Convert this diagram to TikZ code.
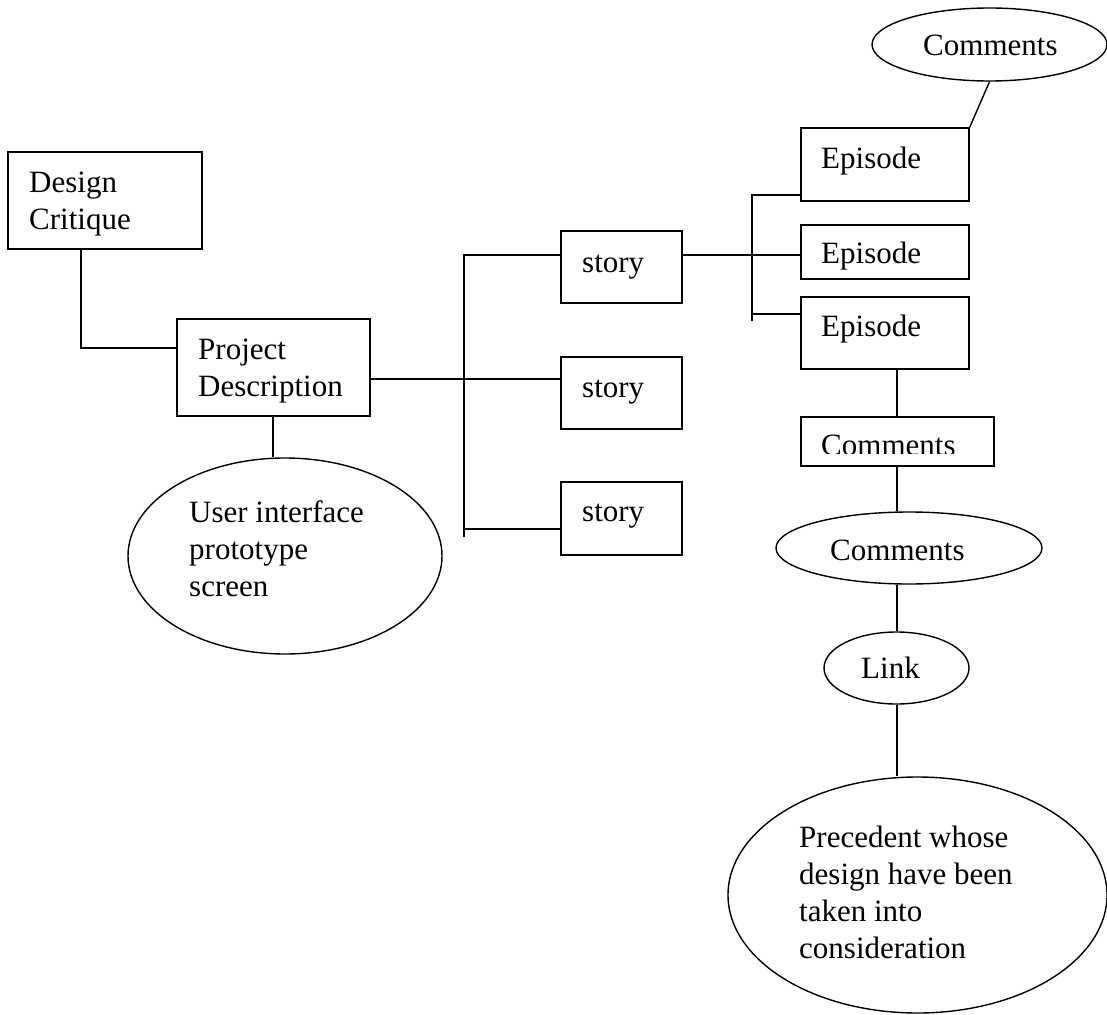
\documentclass[tikz,border=0pt]{standalone}
\usepackage{fontspec}
\setmainfont{Liberation Serif}
\usetikzlibrary{shapes.geometric}
\begin{document}
\begin{tikzpicture}[x=1pt,y=-1pt,
  box/.style={draw, rectangle, inner sep=0pt, line width=1.4pt},
  oval/.style={draw, ellipse, inner sep=0pt, line width=1.4pt},
  lbl/.style={inner sep=0pt, anchor=north west, align=left, font=\fontsize{31}{37}\selectfont},
  wire/.style={line width=1.4pt}]
\useasboundingbox (0,0) rectangle (1107,1014);

% ---- shapes ----
\node[box, minimum width=194pt, minimum height=97pt] (dc) at (105,200.5) {};
\node[box, minimum width=193pt, minimum height=97pt] (pd) at (273.5,367.5) {};
\node[box, minimum width=121pt, minimum height=72pt] (s1) at (621.5,267) {};
\node[box, minimum width=121pt, minimum height=72pt] (s2) at (621.5,393) {};
\node[box, minimum width=121pt, minimum height=73pt] (s3) at (621.5,518.5) {};
\node[box, minimum width=168pt, minimum height=73pt] (e1) at (885,164.5) {};
\node[box, minimum width=168pt, minimum height=54pt] (e2) at (885,252) {};
\node[box, minimum width=168pt, minimum height=72pt] (e3) at (885,333) {};
\node[box, minimum width=193pt, minimum height=49pt] (cbox) at (897.5,441.5) {};
\node[oval, minimum width=235pt, minimum height=73pt] (ctop) at (989.5,44.5) {};
\node[oval, minimum width=314pt, minimum height=196pt] (ui) at (285,556) {};
\node[oval, minimum width=266pt, minimum height=72pt] (cmt) at (909,548) {};
\node[oval, minimum width=145pt, minimum height=72pt] (lnk) at (896.5,668) {};
\node[oval, minimum width=379pt, minimum height=236pt] (big) at (917.5,895) {};

% ---- texts ----
\node[lbl] (dct) at (29,166.1) {\strut Design\\\strut Critique};
\node[lbl] (pdt) at (198,333.1) {\strut Project\\\strut Description};
\node[lbl] (s1t) at (582,246.1) {\strut story};
\node[lbl] (s2t) at (582,371.1) {\strut story};
\node[lbl] (s3t) at (582,495.1) {\strut story};
\node[lbl] (e1t) at (821,142.1) {\strut Episode};
\node[lbl] (e2t) at (821,237.1) {\strut Episode};
\node[lbl] (e3t) at (821,310.1) {\strut Episode};
\node[lbl] (ctopt) at (923,29.1) {\strut Comments};
\begin{scope}
  \clip (790,420) rectangle (1000,453.5);
  \node[lbl] (cboxt) at (821,429.6) {\strut Comments};
\end{scope}
\node[lbl] (cmtt) at (830,534.1) {\strut Comments};
\node[lbl] (lnkt) at (861,652.1) {\strut Link};
\node[lbl] (uit) at (189,496.1) {\strut User interface\\\strut prototype\\\strut screen};
\node[lbl] (bigt) at (799,821.1) {\strut Precedent whose\\\strut design have been\\\strut taken into\\\strut consideration};

% ---- connector helper points ----
\coordinate (k1) at (81,348);
\coordinate (h1) at (0,379);
\coordinate (hs1) at (464,255);
\coordinate (hs3) at (464,529);
\coordinate (spb) at (464,537);
\coordinate (es1) at (752,195);
\coordinate (es3) at (752,314);
\coordinate (esb) at (752,321);
\coordinate (vx) at (897,0);
\coordinate (ux) at (273,0);

% ---- connectors ----
\draw[wire] (dc.south -| k1) |- (pd.west |- k1);
\draw[wire] (pd.south -| ux) -- (ui.north -| ux);
\draw[wire] (pd.east |- h1) -- (s2.west |- h1);
\draw[wire] (s1.west |- hs1) -- (hs1) -- (spb);
\draw[wire] (hs3) -- (s3.west |- hs3);
\draw[wire] (s1.east |- hs1) -- (e2.west |- hs1);
\draw[wire] (e1.west |- es1) -- (es1) -- (esb);
\draw[wire] (es3) -- (e3.west |- es3);
\draw[wire] (ctop.south) -- (e1.north east);
\draw[wire] (e3.south -| vx) -- (cbox.north -| vx);
\draw[wire] (cbox.south -| vx) -- (cmt.north -| vx);
\draw[wire] (cmt.south -| vx) -- (lnk.north -| vx);
\draw[wire] (lnk.south -| vx) -- (big.north -| vx);
\end{tikzpicture}
\end{document}
